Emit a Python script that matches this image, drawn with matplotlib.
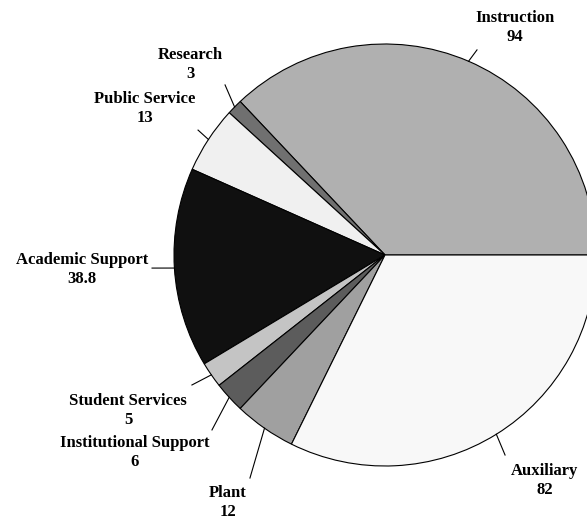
import numpy as np
import matplotlib
matplotlib.use("Agg")
import matplotlib.pyplot as plt

categories = ["Instruction", "Research", "Public Service", "Academic Support",
              "Student Services", "Institutional Support", "Plant", "Auxiliary"]
values = [94, 3, 13, 38.8, 5, 6, 12, 82]
value_labels = ["94", "3", "13", "38.8", "5", "6", "12", "82"]
colors = ["#b0b0b0", "#707070", "#f0f0f0", "#101010",
          "#c4c4c4", "#5c5c5c", "#a0a0a0", "#f8f8f8"]

# label placement (layout): text centre and end of leader line, in radius units
label_pos = [(0.616, 1.076), (-0.924, 0.905), (-1.137, 0.692), (-1.436, -0.071),
             (-1.218, -0.735), (-1.185, -0.938), (-0.744, -1.175), (0.758, -1.071)]
leader_end = [(0.436, 0.972), (-0.758, 0.806), (-0.886, 0.592), (-1.104, -0.062),
              (-0.915, -0.616), (-0.82, -0.829), (-0.64, -1.057), (0.569, -0.948)]

fig = plt.figure(figsize=(5.87, 5.19), dpi=100)
ax = fig.add_axes([0, 0, 1, 1])
R = 211.0

wedges, _ = ax.pie(values, colors=colors, startangle=0, counterclock=True,
                   radius=1.0, center=(0, 0), frame=True,
                   wedgeprops=dict(edgecolor="black", linewidth=0.8))
ax.set_xlim(-385 / R, (587 - 385) / R)
ax.set_ylim(-(519 - 255) / R, 255 / R)
ax.set_aspect("equal")
ax.axis("off")

font = dict(family="Liberation Serif", fontsize=12, fontweight="bold")
for w, name, vl, tp, le in zip(wedges, categories, value_labels, label_pos, leader_end):
    mid = np.radians((w.theta1 + w.theta2) / 2)
    x0, y0 = np.cos(mid), np.sin(mid)
    ax.plot([x0, le[0]], [y0, le[1]], color="black", linewidth=0.8)
    ax.text(tp[0], tp[1], name + "\n" + vl, ha="center", va="center",
            linespacing=1.25, **font)

fig.savefig("out.png", dpi=100)
